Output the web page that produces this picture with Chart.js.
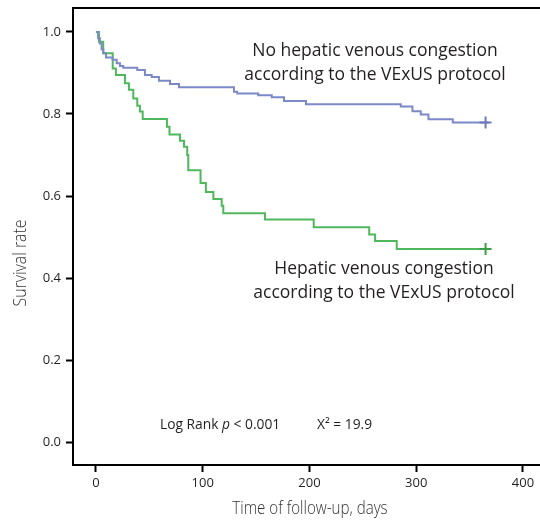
<!DOCTYPE html>
<html>
<head>
<meta charset="utf-8">
<script src="https://cdn.jsdelivr.net/npm/chart.js@4.4.1/dist/chart.umd.min.js"></script>
<style>
html,body{margin:0;padding:0;background:#fff;}
#wrap{width:540px;height:522px;}
</style>
</head>
<body>
<div id="wrap"><canvas id="c" width="540" height="522"></canvas></div>
<script>
// Kaplan-Meier: No hepatic venous congestion (blue)
const noCongDays = [0, 2, 3.7, 5.3, 6.9, 9.4, 15.6, 19.4, 22.5, 25.6, 38.7, 45.9, 52.2, 59, 69.4, 77.8, 129.3, 132.4, 152, 164.7, 176.2, 196.8, 285.6, 296.5, 304.3, 311.5, 334.3, 365, 368];
const noCongSurv = [1.0, 0.985, 0.972, 0.958, 0.948, 0.938, 0.932, 0.924, 0.917, 0.913, 0.907, 0.895, 0.89, 0.881, 0.873, 0.865, 0.854, 0.85, 0.846, 0.841, 0.832, 0.824, 0.818, 0.807, 0.799, 0.787, 0.779, 0.779, 0.779];
// Kaplan-Meier: Hepatic venous congestion (green)
const congDays = [0, 2.8, 6.8, 15.7, 18.7, 27.2, 30.9, 35, 38.7, 41.2, 43.8, 66.5, 68.9, 78.7, 82.5, 85.5, 86.5, 98, 103, 110, 117.8, 119.3, 158.4, 204, 256, 261.5, 281.8, 365, 368];
const congSurv = [1.0, 0.976, 0.948, 0.911, 0.895, 0.875, 0.859, 0.838, 0.82, 0.806, 0.788, 0.769, 0.75, 0.735, 0.72, 0.70, 0.663, 0.632, 0.61, 0.593, 0.576, 0.558, 0.543, 0.524, 0.506, 0.49, 0.471, 0.471, 0.471];
const censorDay = 365;
const xTicks = [0, 100, 200, 300, 400];
const yTicks = [0.0, 0.2, 0.4, 0.6, 0.8, 1.0];
const labelNoCong = ["No hepatic venous congestion", "according to the VExUS protocol"];
const labelCong = ["Hepatic venous congestion", "according to the VExUS protocol"];
const xTitle = "Time of follow-up, days";
const yTitle = "Survival rate";

function pts(xs, ys){ return xs.map((x,i)=>({x:x, y:ys[i]})); }
function censorRadius(xs){ return xs.map(x => x === censorDay ? 6 : 0); }

const annotPlugin = {
  id: 'annot',
  afterDraw(chart){
    const ctx = chart.ctx;
    const a = chart.chartArea;
    ctx.save();
    // top frame line
    ctx.strokeStyle = '#000'; ctx.lineWidth = 2;
    ctx.beginPath(); ctx.moveTo(a.left - 1, a.top); ctx.lineTo(a.right + 2, a.top); ctx.stroke();
    ctx.fillStyle = '#231f20';
    ctx.textAlign = 'center'; ctx.textBaseline = 'middle';
    ctx.font = '17.5px "Open Sans"';
    ctx.fillText(labelNoCong[0], 375, 51);
    ctx.fillText(labelNoCong[1], 375, 75);
    ctx.fillText(labelCong[0], 384, 269);
    ctx.fillText(labelCong[1], 384, 293);
    // log rank
    ctx.textAlign = 'left';
    ctx.font = '13.8px "Open Sans"';
    let x = 160;
    const y0 = 425;
    const s1 = 'Log Rank ';
    ctx.fillText(s1, x, y0); x += ctx.measureText(s1).width;
    ctx.font = 'italic 13.8px "Open Sans"';
    ctx.fillText('p', x, y0); x += ctx.measureText('p').width;
    ctx.font = '13.8px "Open Sans"';
    ctx.fillText(' < 0.001', x, y0);
    ctx.fillText('X\u00B2 = 19.9', 317, y0);
    // axis titles (condensed)
    ctx.fillStyle = '#333';
    ctx.font = '300 18px "Open Sans"';
    ctx.textAlign = 'center';
    ctx.save();
    ctx.translate(310, 509);
    ctx.scale(0.84, 1);
    ctx.fillText(xTitle, 0, 0);
    ctx.restore();
    ctx.save();
    ctx.translate(21, 263);
    ctx.rotate(-Math.PI/2);
    ctx.scale(0.88, 1);
    ctx.fillText(yTitle, 0, 0);
    ctx.restore();
    ctx.restore();
  }
};

const axisCommon = {
  grid: {display: true, drawOnChartArea: false, drawTicks: true, tickLength: 7, tickWidth: 2, tickColor: '#000'},
  border: {display: true, color: '#000', width: 2},
};

new Chart(document.getElementById('c'), {
  type: 'line',
  data: {
    datasets: [
      {
        label: 'No congestion',
        data: pts(noCongDays, noCongSurv),
        stepped: 'before',
        borderColor: '#7c89c8',
        borderWidth: 2,
        pointStyle: 'cross',
        pointRadius: censorRadius(noCongDays),
        pointBorderColor: '#6c79ba',
        pointBorderWidth: 2,
        pointHoverRadius: 0,
        fill: false
      },
      {
        label: 'Congestion',
        data: pts(congDays, congSurv),
        stepped: 'before',
        borderColor: '#50b85c',
        borderWidth: 2,
        pointStyle: 'cross',
        pointRadius: censorRadius(congDays),
        pointBorderColor: '#3c9e49',
        pointBorderWidth: 2,
        pointHoverRadius: 0,
        fill: false
      }
    ]
  },
  options: {
    responsive: false,
    animation: false,
    devicePixelRatio: 1,
    layout: {padding: {top: 8, right: 0, left: 0, bottom: 0}},
    plugins: {legend: {display: false}, tooltip: {enabled: false}},
    scales: {
      x: {
        type: 'linear',
        min: -21.5, max: 416,
        afterFit(s){ s.height = 57; s.paddingLeft = 0; s.paddingRight = 0; },
        afterBuildTicks(s){ s.ticks = xTicks.map(v => ({value: v})); },
        ticks: {includeBounds: false, padding: 3, color: '#231f20', font: {family: '"Open Sans"', size: 13}, maxRotation: 0, autoSkip: false},
        ...axisCommon
      },
      y: {
        type: 'linear',
        min: -0.056, max: 1.0585,
        afterFit(s){ s.width = 73; s.paddingTop = 0; s.paddingBottom = 0; },
        afterBuildTicks(s){ s.ticks = yTicks.map(v => ({value: v})); },
        ticks: {includeBounds: false, padding: 5, color: '#231f20', font: {family: '"Open Sans"', size: 13}, callback: v => Number(v).toFixed(1)},
        ...axisCommon
      }
    }
  },
  plugins: [annotPlugin]
});
</script>
</body>
</html>
